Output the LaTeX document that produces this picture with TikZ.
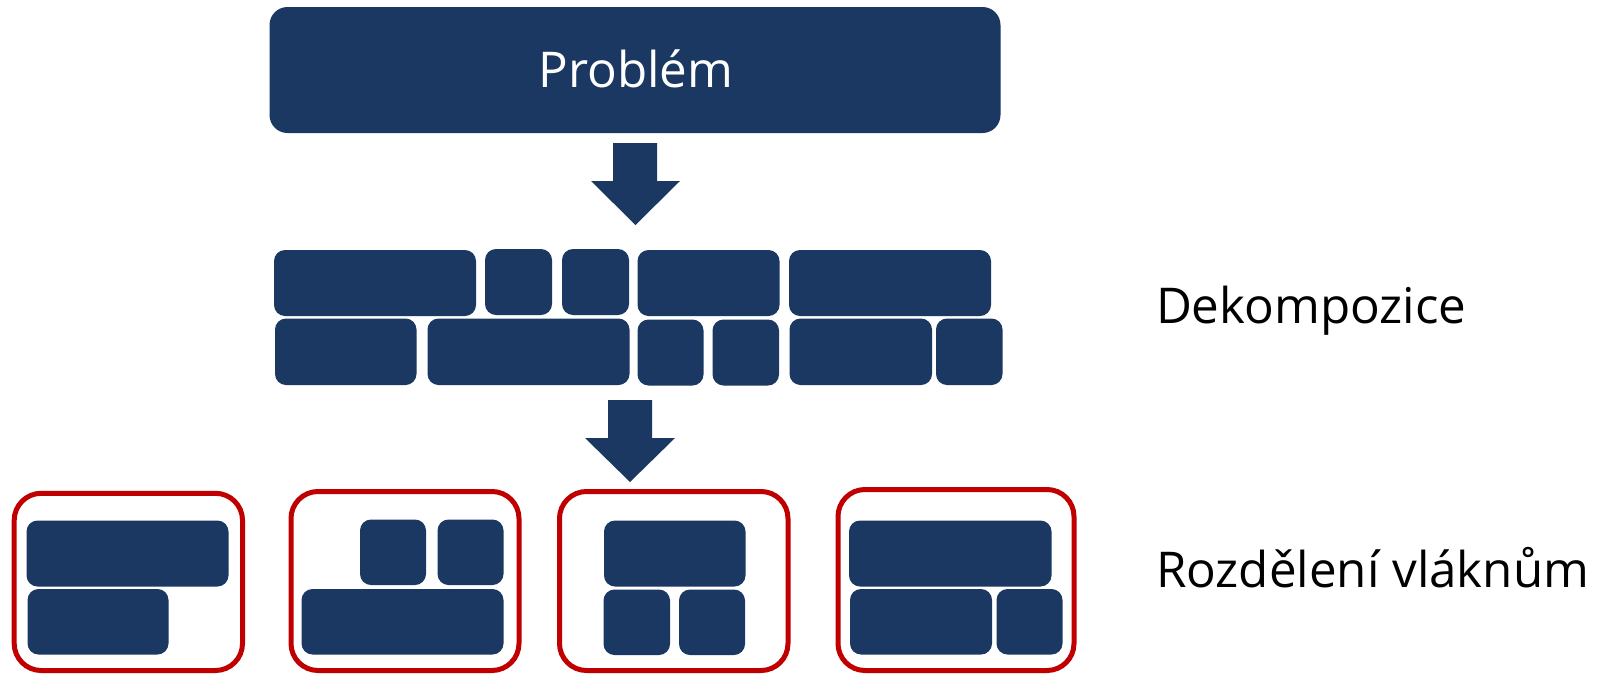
\documentclass[tikz,border=0pt]{standalone}
\usepackage{fontspec}
\setmainfont{Open Sans}
\definecolor{navy}{HTML}{1A3861}
\definecolor{framered}{HTML}{C00000}
\tikzset{
  blk/.style={fill=navy, draw=none, rounded corners=11pt, inner sep=0pt, outer sep=0pt},
  topbox/.style={fill=navy, draw=none, rounded corners=18pt, inner sep=0pt, outer sep=0pt},
  frame/.style={draw=framered, line width=5pt, rounded corners=27pt, inner sep=0pt, outer sep=0pt},
  lbl/.style={anchor=base west, inner sep=0pt, outer sep=0pt, font=\fontsize{49.3}{59}\selectfont},
  blockarrow/.style={fill=navy, draw=none},
}
\newcommand\blkat[6][blk]{%
  \node[#1, minimum width={#5-#3}, minimum height={#6-#4}] (#2) at ({(#3+#5)/2},{(#4+#6)/2}) {};}
\begin{document}
\begin{tikzpicture}[x=1pt,y=-1pt]
\useasboundingbox (0,0) rectangle (1604,675);
% top problem box
\node[topbox, minimum width=731, minimum height=126] (problem) at (635,70) {};
\node[inner sep=0pt, anchor=base, text=white, font=\fontsize{49.3}{59}\selectfont] (problemtxt) at (636,87) {Problém};
% arrow 1
\fill[blockarrow] (613,143) -- (657,143) -- (657,181) -- (680,181) -- (635.5,225) -- (591,181) -- (613,181) -- cycle;
% decomposition top row
\blkat{d1}{274}{250}{476}{316}
\blkat{d2}{485}{249}{552}{315}
\blkat{d3}{562}{249}{629}{315}
\blkat{d4}{637.5}{250}{779.5}{316}
\blkat{d5}{789}{250}{991}{316}
% decomposition bottom row
\blkat{e1}{275}{318.5}{416.5}{385}
\blkat{e2}{427.5}{318.5}{629.5}{385}
\blkat{e3}{637.5}{319.5}{703.5}{385.5}
\blkat{e4}{712.5}{319.5}{779}{385.5}
\blkat{e5}{789.5}{318.5}{932}{385}
\blkat{e6}{936}{318.5}{1002.5}{385}
% arrow 2
\fill[blockarrow] (608,400) -- (652,400) -- (652,438) -- (675,438) -- (630,482) -- (585,438) -- (608,438) -- cycle;
% frames
\blkat[frame]{f1}{14.2}{493.3}{242.5}{670.5}
\blkat[frame]{f2}{291}{491.5}{519}{670.5}
\blkat[frame]{f3}{559.5}{491.5}{788}{670.5}
\blkat[frame]{f4}{838}{489.5}{1074}{670.5}
% group 1
\blkat{g1a}{26.5}{520.5}{228.5}{586.5}
\blkat{g1b}{27.5}{589}{168.5}{654.5}
% group 2
\blkat{g2a}{360}{519.5}{426}{585}
\blkat{g2b}{437.5}{519.5}{503.5}{585}
\blkat{g2c}{301.5}{589}{503.5}{654.5}
% group 3
\blkat{g3a}{604}{520.5}{745.5}{586.5}
\blkat{g3b}{603.5}{589.5}{670}{655}
\blkat{g3c}{679}{589.5}{745}{655}
% group 4
\blkat{g4a}{849}{520.5}{1051.5}{586.5}
\blkat{g4b}{850}{589}{992}{654.5}
\blkat{g4c}{996.5}{589}{1062.5}{654.5}
% labels
\node[lbl] (dek) at (1156,323) {Dekompozice};
\node[lbl] (roz) at (1156,587) {Rozdělení vláknům};
\end{tikzpicture}
\end{document}
